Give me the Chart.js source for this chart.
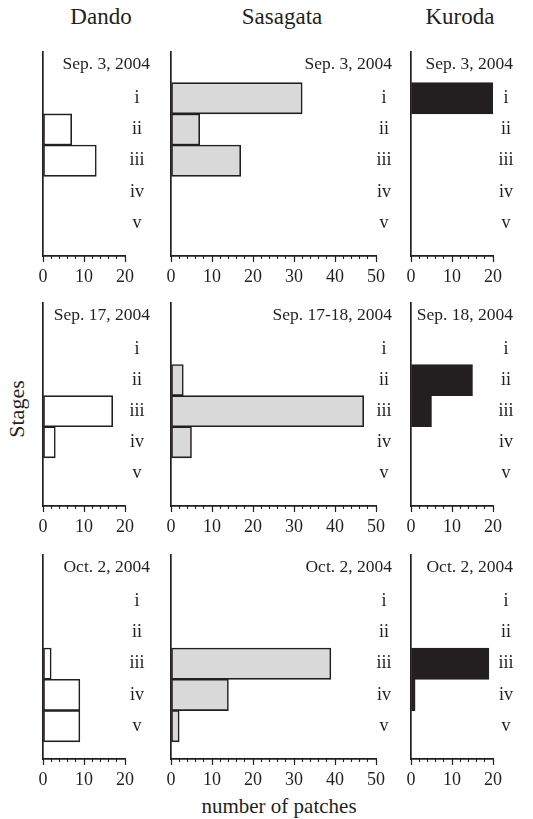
<!DOCTYPE html>
<html>
<head>
<meta charset="utf-8">
<script src="https://cdn.jsdelivr.net/npm/chart.js@4.4.1/dist/chart.umd.min.js"></script>
<style>
  body { margin: 0; background: #fff; }
  #fig { position: relative; width: 533px; height: 819px; font-family: "Liberation Serif", "Times New Roman", serif; color: #231f20; }
  .lbl { position: absolute; white-space: nowrap; line-height: 1; }
  #fig canvas { position: absolute; }
</style>
</head>
<body>
<div id="fig">
  <div class="lbl" style="left:101px;top:5px;font-size:23px;transform:translateX(-50%)">Dando</div>
  <div class="lbl" style="left:282px;top:5px;font-size:23px;transform:translateX(-50%)">Sasagata</div>
  <div class="lbl" style="left:460px;top:5px;font-size:23px;transform:translateX(-50%)">Kuroda</div>
  <div class="lbl" style="left:17px;top:409px;font-size:22px;transform:translate(-50%,-50%) rotate(-90deg)">Stages</div>
  <div class="lbl" style="left:279px;top:796px;font-size:21px;transform:translateX(-50%)">number of patches</div>
</div>
<script>
// stages on the vertical axis
const stages = ["i", "ii", "iii", "iv", "v"];

// sampling dates, one row per survey, one column per site
const dates = [
  ["Sep. 3, 2004", "Sep. 3, 2004", "Sep. 3, 2004"],
  ["Sep. 17, 2004", "Sep. 17-18, 2004", "Sep. 18, 2004"],
  ["Oct. 2, 2004", "Oct. 2, 2004", "Oct. 2, 2004"]
];

// number of patches per stage (i..v)
const dandoSep3 = [0, 7, 13, 0, 0];
const dandoSep17 = [0, 0, 17, 3, 0];
const dandoOct2 = [0, 0, 2, 9, 9];

const sasagataSep3 = [32, 7, 17, 0, 0];
const sasagataSep17 = [0, 3, 47, 5, 0];
const sasagataOct2 = [0, 0, 39, 14, 2];

const kurodaSep3 = [20, 0, 0, 0, 0];
const kurodaSep18 = [0, 15, 5, 0, 0];
const kurodaOct2 = [0, 0, 19, 1, 0];

// x axis ranges and ticks
const xAxisMax = [20, 50, 20];
const majorStep = 10;
const minorStep = 2;

const panelValues = [
  [dandoSep3, sasagataSep3, kurodaSep3],
  [dandoSep17, sasagataSep17, kurodaSep18],
  [dandoOct2, sasagataOct2, kurodaOct2]
];

// page layout (pixels)
const rowTop = [52, 303, 555];
const rowBottom = [256, 506, 759];
const colAxisX = [43, 170.5, 411];
const colWidth = [82, 205, 82];
const colRight = [32, 22, 40];
const colLabelPad = [4.5, 0.5, 5.5];
const colDateOff = [25, 16, 20];
const colFill = ["#ffffff", "#d9d9d9", "#231f20"];

const ink = "#231f20";
const serif = "'Liberation Serif', 'Times New Roman', serif";
const padL = 12, padT = 4, xAxisH = 32;

// date written in the top right corner of every panel
const panelDate = {
  id: "panelDate",
  afterDraw(chart, args, opts) {
    const { ctx, chartArea } = chart;
    ctx.save();
    ctx.font = "17.5px " + serif;
    ctx.fillStyle = ink;
    ctx.textAlign = "right";
    ctx.textBaseline = "alphabetic";
    ctx.fillText(opts.text, chartArea.right + opts.offset, chartArea.top + 17);
    ctx.restore();
  }
};

const makePanel = (row, col) => {
  const fig = document.getElementById("fig");
  const canvas = document.createElement("canvas");
  const w = padL + colWidth[col] + colRight[col];
  const h = padT + (rowBottom[row] - rowTop[row]) + xAxisH;
  canvas.width = w;
  canvas.height = h;
  canvas.style.width = w + "px";
  canvas.style.height = h + "px";
  canvas.style.left = (colAxisX[col] - padL) + "px";
  canvas.style.top = (rowTop[row] - padT) + "px";
  fig.appendChild(canvas);

  const values = panelValues[row][col];
  const yRange = { min: -0.48, max: 6.05, reverse: true, offset: false };

  new Chart(canvas, {
    type: "bar",
    data: {
      datasets: [{
        data: values.map((v, i) => ({ x: v, y: i + 1 })),
        backgroundColor: colFill[col],
        borderColor: ink,
        borderWidth: 1.6,
        borderSkipped: false,
        categoryPercentage: 1,
        barPercentage: 1,
        xAxisID: "x",
        yAxisID: "y"
      }]
    },
    options: {
      indexAxis: "y",
      responsive: false,
      animation: false,
      layout: { padding: { left: padL, top: padT, right: 0, bottom: 0 } },
      plugins: {
        legend: { display: false },
        tooltip: { enabled: false },
        panelDate: { text: dates[row][col], offset: colDateOff[col] }
      },
      scales: {
        y: {
          type: "linear",
          position: "right",
          ...yRange,
          grid: { display: false, drawTicks: false },
          border: { display: false },
          afterBuildTicks: (scale) => { scale.ticks = stages.map((s, i) => ({ value: i + 1 })); },
          afterFit: (scale) => { scale.width = colRight[col]; scale.paddingTop = 0; scale.paddingBottom = 0; },
          ticks: {
            callback: (value) => stages[value - 1] || "",
            crossAlign: "center",
            padding: colLabelPad[col],
            color: ink,
            font: { family: serif, size: 18 }
          }
        },
        yl: {
          type: "linear",
          position: "left",
          ...yRange,
          grid: { display: false, drawTicks: false },
          border: { display: true, color: ink, width: 1.7 },
          ticks: { display: false },
          afterFit: (scale) => { scale.width = 0; }
        },
        x: {
          type: "linear",
          position: "bottom",
          min: 0,
          max: xAxisMax[col],
          weight: 1,
          grid: { drawOnChartArea: false, drawTicks: true, tickLength: 6, color: ink, tickWidth: 1.2 },
          border: { display: true, color: ink, width: 1.7 },
          afterFit: (scale) => { scale.height = xAxisH; scale.paddingLeft = 0; scale.paddingRight = 0; },
          ticks: {
            stepSize: majorStep,
            autoSkip: false,
            maxRotation: 0,
            padding: 4,
            color: ink,
            font: { family: serif, size: 18 }
          }
        },
        xMinor: {
          type: "linear",
          position: "bottom",
          min: 0,
          max: xAxisMax[col],
          weight: 0,
          grid: { drawOnChartArea: false, drawTicks: true, tickLength: 3, color: ink, tickWidth: 1.1 },
          border: { display: false },
          afterFit: (scale) => { scale.height = 0; scale.paddingLeft = 0; scale.paddingRight = 0; },
          ticks: { display: false, stepSize: minorStep, maxTicksLimit: 100, autoSkip: false }
        }
      }
    },
    plugins: [panelDate]
  });
};

for (let r = 0; r < 3; r++) {
  for (let c = 0; c < 3; c++) {
    makePanel(r, c);
  }
}
</script>
</body>
</html>
